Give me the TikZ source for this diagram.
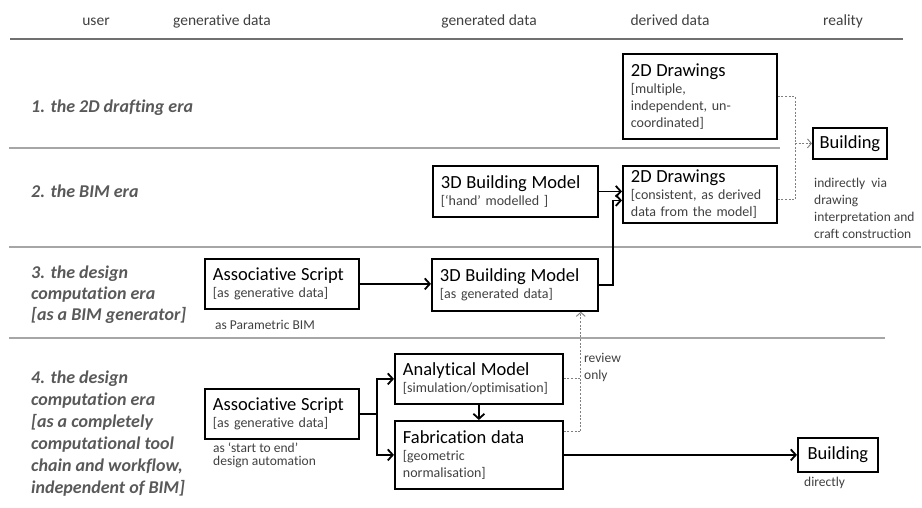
\documentclass[tikz,border=0pt]{standalone}
\usepackage{fontspec}
\setmainfont{Carlito}[Ligatures={NoCommon}, Contextuals={NoAlternate}]
\usetikzlibrary{arrows.meta}
\definecolor{eragray}{HTML}{595959}
\definecolor{subgray}{HTML}{404040}
\definecolor{rulegray}{HTML}{A6A6A6}
\definecolor{headrule}{HTML}{707070}
\definecolor{dotgray}{HTML}{7F7F7F}
\newcommand\boxtitle{\fontsize{18.5}{21}\selectfont\color{black}}
\newcommand\boxsub{\fontsize{14}{17}\selectfont\color{subgray}}
\newcommand\erafont{\fontsize{18}{21}\selectfont\bfseries\itshape\color{eragray}}
\newcommand\headfont{\fontsize{15.5}{18}\selectfont\color{subgray}}
\newcommand\notefont{\fontsize{13.5}{17}\selectfont\color{subgray}}
\tikzset{
  stage/.style={draw, line width=1.8pt, anchor=north west, align=left, inner xsep=8pt, inner ysep=3pt, font=\boxsub},
  bldbox/.style={draw, line width=1.8pt, anchor=north west, align=center, inner sep=0pt, font=\boxtitle},
  era/.style={anchor=north west, align=left, inner sep=0pt, font=\erafont},
  head/.style={anchor=base, inner sep=0pt, font=\headfont},
  note/.style={anchor=north west, align=left, inner sep=0pt, font=\notefont},
  flow/.style={line width=1.8pt, -{Straight Barb[length=5pt,width=11pt]}},
  reviewline/.style={dotgray, line width=0.9pt, dash pattern=on 2pt off 1.6pt},
  review/.style={reviewline, -{Straight Barb[length=4pt,width=9pt]}},
}
\begin{document}
\begin{tikzpicture}[x=1pt, y=-1pt]
\useasboundingbox (0,0) rectangle (922,507);

\node[head] (huser) at (96,25) {user};
\node[head] (hgen) at (222,25) {generative data};
\node[head] (hgend) at (489,25) {generated data};
\node[head] (hder) at (670,25) {derived data};
\node[head] (hreal) at (843,25) {reality};
\draw[headrule, line width=2.5pt] (10,39) -- (903,39);

\draw[rulegray, line width=1.3pt] (9,148) -- (780,148);
\draw[rulegray, line width=1.3pt] (9,247) -- (921,247);
\draw[rulegray, line width=1.3pt] (9,338) -- (885,338);

\node[era] (era1) at (31,100) {1. the 2D drafting era};
\node[era] (era2) at (31,185) {2. the BIM era};
\node[era] (era3) at (31,266) {3. the design\\computation era\\{[as a BIM generator]}};
\node[era, font=\fontsize{18}{22}\selectfont\bfseries\itshape\color{eragray}] (era4) at (31,371) {4. the design\\computation era\\{[as a completely}\\computational tool\\chain and workflow,\\independent of BIM{]}};

\node[stage, text width=138pt, minimum height=85pt] (d2a) at (622,53) {{\boxtitle 2D Drawings}\\{[multiple,}\\independent, un-\\coordinated{]}};
\node[bldbox, minimum width=74pt, minimum height=31pt] (bld1) at (812,127) {Building};
\node[note] (via) at (814,178) {indirectly~~via\\drawing\\interpretation and\\craft construction};

\node[stage, text width=149pt, minimum height=51pt] (m3a) at (432,165) {{\boxtitle 3D Building Model}\\{[‘hand’ modelled ]}};
\node[stage, text width=138pt, minimum height=57pt] (d2b) at (622,165) {{\boxtitle 2D Drawings}\\{[consistent, as derived}\\data from the model{]}};

\node[stage, text width=138pt, minimum height=50pt] (scr3) at (204,258) {{\boxtitle Associative Script}\\{[as generative data]}};
\node[note] (parbim) at (215,320) {as Parametric BIM};
\node[stage, text width=150pt, minimum height=52pt] (m3b) at (431,258) {{\boxtitle 3D Building Model}\\{[as generated data]}};

\node[stage, text width=138pt, minimum height=50pt] (scr4) at (204,388) {{\boxtitle Associative Script}\\{[as generative data]}};
\node[note, font=\fontsize{13.5}{13}\selectfont\color{subgray}] (auto) at (213,443) {as ‘start to end’\\design automation};
\node[stage, text width=152pt, inner xsep=8pt, minimum height=50pt] (ana) at (394,353) {{\boxtitle Analytical Model}\\{[simulation/optimisation]}};
\node[stage, text width=152pt, minimum height=68pt] (fab) at (394,420) {{\boxtitle Fabrication data}\\{[geometric}\\normalisation{]}};
\node[note] (revonly) at (584,353) {review\\only};
\node[bldbox, minimum width=80pt, minimum height=34pt] (bld2) at (797,437) {Building};
\node[note, anchor=base west] (direct) at (804,486) {directly};

\draw[flow] (m3a.east) -- (m3a.east -| d2b.west);
\draw[flow] (m3b.east) -- ++(14,0) |- ([yshift=-6pt]d2b.west);
\draw[flow] (scr3.east) -- (scr3.east -| m3b.west);
\draw[flow] (scr4.east) -- ++(17,0) |- (ana.west);
\draw[flow] (scr4.east) -- ++(17,0) |- (fab.west);
\draw[flow] (ana.south) -- (fab.north);
\draw[flow] (fab.east) -- (bld2.west);

\coordinate (join) at ([xshift=-17pt]bld1.west);
\draw[reviewline] (d2a.east) -| (join);
\draw[reviewline] ([yshift=-5.5pt]d2b.east) -| (join);
\draw[review] (join) -- (bld1.west);

\coordinate (revtop) at ([xshift=-18pt]m3b.south east);
\draw[reviewline] (ana.east) -- (ana.east -| revtop);
\draw[review] ([yshift=23pt]fab.east) -| (revtop);
\end{tikzpicture}
\end{document}
